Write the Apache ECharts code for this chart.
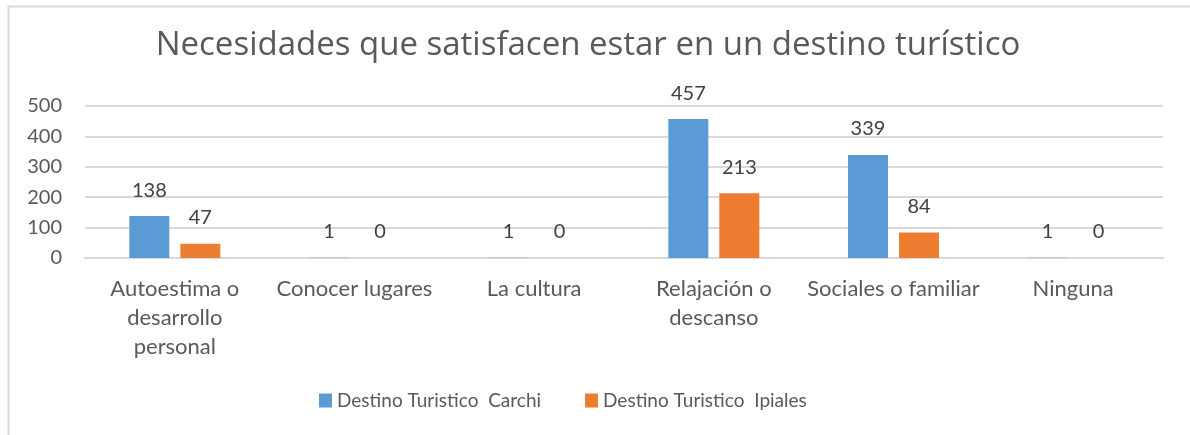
<!DOCTYPE html>
<html>
<head>
<meta charset="utf-8">
<script src="https://cdn.jsdelivr.net/npm/echarts@6/dist/echarts.min.js"></script>
<style>
  html, body { margin: 0; padding: 0; background: #ffffff; }
  #chart { width: 1190px; height: 435px; }
</style>
</head>
<body>
<div id="chart"></div>
<script>
// Needs satisfied by visiting a tourist destination, per destination
const categories = [
  'Autoestima o\ndesarrollo\npersonal',
  'Conocer lugares',
  'La cultura',
  'Relajación o\ndescanso',
  'Sociales o familiar',
  'Ninguna'
];
const seriesNames = ['Destino Turistico  Carchi', 'Destino Turistico  Ipiales'];
const carchi = [138, 1, 1, 457, 339, 1];
const ipiales = [47, 0, 0, 213, 84, 0];
const yTicks = { min: 0, max: 500, interval: 100 };

const FONT = 'Lato';
const TEXT = '#595959';

const chart = echarts.init(document.getElementById('chart'), null, { renderer: 'canvas' });

const barLabel = {
  show: true,
  position: 'top',
  distance: 16,
  color: '#404040',
  fontFamily: FONT,
  fontSize: 20
};

chart.setOption({
  backgroundColor: '#ffffff',
  animation: false,
  title: {
    text: 'Necesidades que satisfacen estar en un destino turístico',
    left: 588,
    textAlign: 'center',
    top: 29,
    padding: 0,
    textStyle: { fontFamily: 'Open Sans', fontSize: 33, fontWeight: 'normal', color: TEXT }
  },
  graphic: [{
    type: 'rect',
    shape: { x: 8.5, y: 6.5, width: 1300, height: 600 },
    style: { fill: 'none', stroke: '#d9d9d9', lineWidth: 2 },
    silent: true,
    z: -1
  }],
  legend: {
    left: 319,
    top: 391,
    padding: 0,
    itemWidth: 13,
    itemHeight: 14,
    itemGap: 44,
    icon: 'rect',
    textStyle: { fontFamily: FONT, fontSize: 19, color: TEXT },
    data: seriesNames
  },
  grid: { left: 85, right: 27, top: 106, bottom: 177, containLabel: false },
  xAxis: {
    type: 'category',
    data: categories,
    axisLine: { lineStyle: { color: '#d9d9d9', width: 2 } },
    axisTick: { show: false },
    axisLabel: {
      interval: 0,
      margin: 16,
      color: TEXT,
      fontFamily: FONT,
      fontSize: 22,
      lineHeight: 29
    }
  },
  yAxis: {
    type: 'value',
    min: yTicks.min,
    max: yTicks.max,
    interval: yTicks.interval,
    axisLine: { show: false },
    axisTick: { show: false },
    splitLine: { lineStyle: { color: '#d9d9d9', width: 2 } },
    axisLabel: { margin: 23, color: TEXT, fontFamily: FONT, fontSize: 20 }
  },
  series: [
    {
      name: seriesNames[0],
      type: 'bar',
      data: carchi,
      barWidth: 40,
      barGap: '27.5%',
      itemStyle: { color: '#5B9BD5' },
      label: barLabel
    },
    {
      name: seriesNames[1],
      type: 'bar',
      data: ipiales,
      barWidth: 40,
      barGap: '27.5%',
      itemStyle: { color: '#ED7D31' },
      label: barLabel
    }
  ]
});
</script>
</body>
</html>
